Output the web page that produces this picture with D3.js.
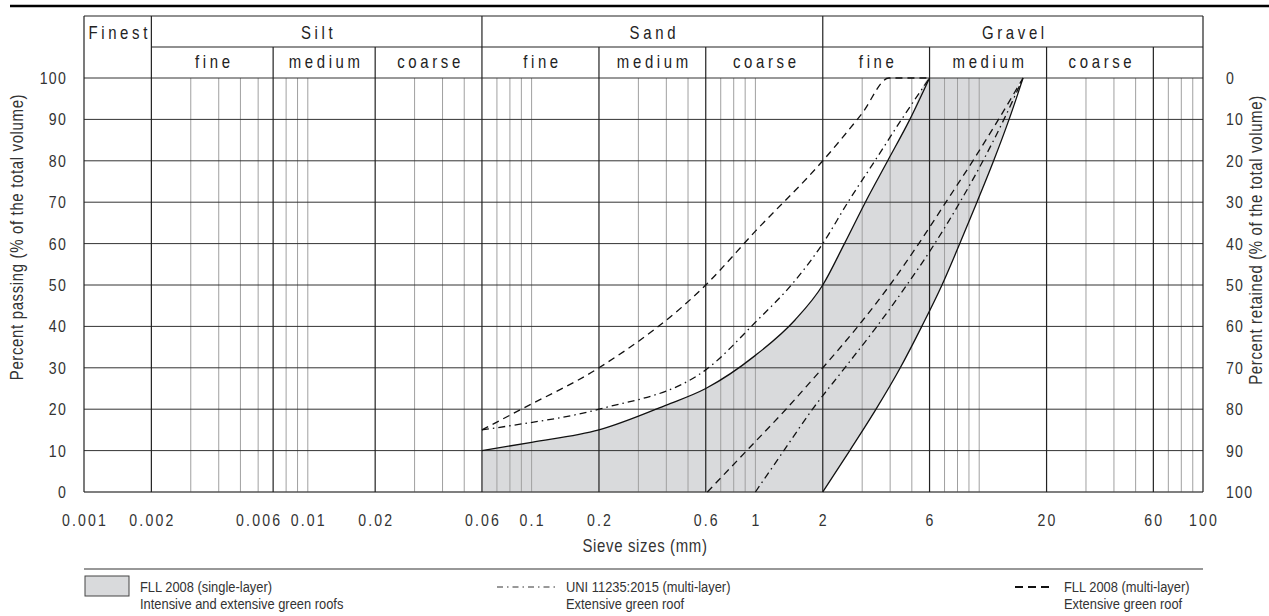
<!DOCTYPE html>
<html>
<head>
<meta charset="utf-8">
<script src="https://cdn.jsdelivr.net/npm/d3@7/dist/d3.min.js"></script>
<style>
  body { margin: 0; background: #fff; }
  svg { display: block; font-family: 'Liberation Sans', Arial, sans-serif; }
</style>
</head>
<body>
<svg></svg>
<script>
const width = 1269;
const height = 616;

// sieve sizes in mm, percent passing
const xTicks = [0.001, 0.002, 0.006, 0.01, 0.02, 0.06, 0.1, 0.2, 0.6, 1, 2, 6, 20, 60, 100];
const yTicks = [0, 10, 20, 30, 40, 50, 60, 70, 80, 90, 100];
const majorLines = [0.002, 0.007, 0.02, 0.06, 0.2, 0.6, 2, 6, 20, 60];
const minorLines = [0.003, 0.004, 0.005, 0.006, 0.008, 0.009, 0.01,
    0.03, 0.04, 0.05, 0.07, 0.08, 0.09, 0.1,
    0.3, 0.4, 0.5, 0.7, 0.8, 0.9, 1,
    3, 4, 5, 7, 8, 9, 10,
    30, 40, 50, 70, 80, 90];

const groups = [
    { name: 'Finest', from: 0.001, to: 0.002 },
    { name: 'Silt', from: 0.002, to: 0.06 },
    { name: 'Sand', from: 0.06, to: 2 },
    { name: 'Gravel', from: 2, to: 100 }
];
const subGroups = [
    { name: 'fine', from: 0.002, to: 0.007 },
    { name: 'medium', from: 0.007, to: 0.02 },
    { name: 'coarse', from: 0.02, to: 0.06 },
    { name: 'fine', from: 0.06, to: 0.2 },
    { name: 'medium', from: 0.2, to: 0.6 },
    { name: 'coarse', from: 0.6, to: 2 },
    { name: 'fine', from: 2, to: 6 },
    { name: 'medium', from: 6, to: 20 },
    { name: 'coarse', from: 20, to: 60 },
    { name: '', from: 60, to: 100 }
];

// FLL 2008 single-layer band
const fllUpper = [[0.06, 10], [0.1, 12], [0.2, 15], [0.4, 21], [0.6, 25], [1, 33], [1.5, 41.5], [2, 50], [2.5, 60], [3.1, 70], [3.9, 80], [4.9, 90], [6, 100]];
const fllLower = [[2, 0], [2.64, 10], [3.46, 20], [4.44, 30], [5.54, 40], [6.82, 50], [8.19, 60], [9.77, 70], [11.6, 80], [13.6, 90], [15.7, 100]];
// UNI 11235:2015 multi-layer
const uniUpper = [[0.06, 15], [0.08, 16], [0.2, 20], [0.6, 29.5], [1, 41], [1.5, 51], [2, 60], [2.59, 70], [3.42, 80], [4.5, 90], [6, 100]];
const uniLower = [[1, 0], [1.34, 10], [1.8, 20], [2.51, 30], [3.49, 40], [4.75, 50], [6.33, 60], [8.2, 70], [10.4, 80], [12.9, 90], [15.7, 100]];
// FLL 2008 multi-layer
const fllMultiUpper = [[0.06, 15], [0.09, 20], [0.2, 30], [0.6, 50], [1, 63], [2, 80], [3, 91.5], [3.95, 100], [6, 100]];
const fllMultiLower = [[0.61, 0], [0.915, 10], [1.37, 20], [2, 30], [2.87, 40], [3.99, 50], [5.37, 60], [7.1, 70], [9.37, 80], [12.2, 90], [15.7, 100]];

const svg = d3.select('svg').attr('width', width).attr('height', height);

const x = d3.scaleLog().domain([0.001, 100]).range([84, 1203]);
const y = d3.scaleLinear().domain([0, 100]).range([492, 78]);
const headerTop = 16;
const headerMid = 47;
const squeeze = 0.83; // condensed lettering

const line = d3.line().x(d => x(d[0])).y(d => y(d[1])).curve(d3.curveMonotoneX);
const area = d3.area().x(d => x(d[0])).y0(y(0)).y1(d => y(d[1])).curve(d3.curveMonotoneX);

drawBand();
drawGrid();
drawHeader();
drawCurves();
drawAxes();
drawLegend();

// place text squeezed horizontally around its anchor point
function narrowText(sel, fx, fy, rot, sq = squeeze) {
    sel.attr('transform', (d, i) =>
        `translate(${fx(d, i)},${fy(d, i)})` + (rot ? ` rotate(${rot})` : '') + ` scale(${sq},1)`);
    return sel;
}

function drawBand() {
    svg.append('path')
        .attr('d', area(fllUpper.concat([[15.7, 100]])))
        .attr('fill', '#d9dadc');
    svg.append('path')
        .attr('d', area(fllLower.concat([[100, 100]])))
        .attr('fill', '#fff');
}

function drawGrid() {
    svg.append('g').selectAll('line')
        .data(minorLines)
        .enter().append('line')
        .attr('x1', d => x(d)).attr('x2', d => x(d))
        .attr('y1', y(0)).attr('y2', y(100))
        .style('stroke', '#a0a0a0')
        .style('stroke-width', '1px');

    svg.append('g').selectAll('line')
        .data(yTicks)
        .enter().append('line')
        .attr('x1', x(0.001)).attr('x2', x(100))
        .attr('y1', d => y(d)).attr('y2', d => y(d))
        .style('stroke', d => d === 0 ? '#555' : '#333')
        .style('stroke-width', d => d === 0 ? '1.6px' : '1px');

    svg.append('g').selectAll('line')
        .data(majorLines)
        .enter().append('line')
        .attr('x1', d => x(d)).attr('x2', d => x(d))
        .attr('y1', y(0)).attr('y2', d => d === 0.002 || d === 0.06 || d === 2 ? headerTop : headerMid)
        .style('stroke', '#222')
        .style('stroke-width', '1.2px');

    // frame
    [0.001, 100].forEach(v => {
        svg.append('line')
            .attr('x1', x(v)).attr('x2', x(v))
            .attr('y1', headerTop).attr('y2', y(0))
            .style('stroke', '#222').style('stroke-width', '1.2px');
    });
}

function drawHeader() {
    svg.append('line')
        .attr('x1', 10).attr('x2', width)
        .attr('y1', 6).attr('y2', 6)
        .style('stroke', '#000').style('stroke-width', '2.5px');
    svg.append('line')
        .attr('x1', x(0.001)).attr('x2', x(100))
        .attr('y1', headerTop).attr('y2', headerTop)
        .style('stroke', '#222').style('stroke-width', '1.2px');
    svg.append('line')
        .attr('x1', x(0.002)).attr('x2', x(100))
        .attr('y1', headerMid).attr('y2', headerMid)
        .style('stroke', '#222').style('stroke-width', '1.2px');

    [[groups, 39], [subGroups, 68]].forEach(([rows, base]) => {
        const t = svg.append('g').selectAll('text')
            .data(rows)
            .enter().append('text')
            .attr('text-anchor', 'middle')
            .style('font-size', '18px')
            .style('letter-spacing', '4.4px')
            .style('fill', '#222')
            .text(d => d.name);
        narrowText(t, d => (x(d.from) + x(d.to)) / 2 + 2, () => base);
    });
}

function drawCurves() {
    const curves = [
        { data: fllUpper, dash: null },
        { data: fllLower, dash: null },
        { data: uniUpper, dash: '7,4,1.5,4' },
        { data: uniLower, dash: '7,4,1.5,4' },
        { data: fllMultiUpper, dash: '7,5' },
        { data: fllMultiLower, dash: '7,5' }
    ];
    svg.append('g').selectAll('path')
        .data(curves)
        .enter().append('path')
        .attr('d', d => line(d.data))
        .style('fill', 'none')
        .style('stroke', '#111')
        .style('stroke-width', '1.3px')
        .style('stroke-dasharray', d => d.dash);
}

function drawAxes() {
    const xt = svg.append('g').selectAll('text')
        .data(xTicks)
        .enter().append('text')
        .attr('text-anchor', 'middle')
        .style('font-size', '17px')
        .style('letter-spacing', '2.6px')
        .style('fill', '#333')
        .text(d => d);
    narrowText(xt, d => x(d) + 1, () => 526);

    const yl = svg.append('g').selectAll('text')
        .data(yTicks)
        .enter().append('text')
        .attr('text-anchor', 'end')
        .style('font-size', '17px')
        .style('letter-spacing', '1.5px')
        .style('fill', '#333')
        .text(d => d);
    narrowText(yl, () => 67, d => y(d) + 6);

    const yr = svg.append('g').selectAll('text')
        .data(yTicks)
        .enter().append('text')
        .style('font-size', '17px')
        .style('letter-spacing', '1.5px')
        .style('fill', '#333')
        .text(d => 100 - d);
    narrowText(yr, () => 1226, d => y(d) + 6);

    const titles = [
        { text: 'Sieve sizes (mm)', x: 645, y: 552, rot: 0 },
        { text: 'Percent passing (% of the total volume)', x: 23, y: 237, rot: -90 },
        { text: 'Percent retained (% of the total volume)', x: 1262, y: 240, rot: -90 }
    ];
    titles.forEach(t => {
        const s = svg.append('text')
            .datum(t)
            .attr('text-anchor', 'middle')
            .style('font-size', '18px')
            .style('letter-spacing', '0.8px')
            .style('fill', '#333')
            .text(t.text);
        narrowText(s, d => d.x, d => d.y, t.rot);
    });
}

function drawLegend() {
    svg.append('line')
        .attr('x1', x(0.001)).attr('x2', x(100))
        .attr('y1', 569).attr('y2', 569)
        .style('stroke', '#333').style('stroke-width', '1.2px');

    svg.append('rect')
        .attr('x', 85).attr('y', 576)
        .attr('width', 44).attr('height', 20)
        .style('fill', '#d9dadc')
        .style('stroke', '#444')
        .style('stroke-width', '1px');

    svg.append('line')
        .attr('x1', 497).attr('x2', 556)
        .attr('y1', 587).attr('y2', 587)
        .style('stroke', '#333').style('stroke-width', '1px')
        .style('stroke-dasharray', '6,4,1.5,4');

    svg.append('line')
        .attr('x1', 1015).attr('x2', 1053)
        .attr('y1', 587).attr('y2', 587)
        .style('stroke', '#111').style('stroke-width', '2px')
        .style('stroke-dasharray', '8,5');

    const items = [
        { x: 140, lines: ['FLL 2008 (single-layer)', 'Intensive and extensive green roofs'] },
        { x: 566, lines: ['UNI 11235:2015 (multi-layer)', 'Extensive green roof'] },
        { x: 1064, lines: ['FLL 2008 (multi-layer)', 'Extensive green roof'] }
    ];
    items.forEach(item => {
        const t = svg.append('g').selectAll('text')
            .data(item.lines)
            .enter().append('text')
            .style('font-size', '15px')
            .style('fill', '#333')
            .text(d => d);
        narrowText(t, () => item.x, (d, i) => 592 + i * 17, 0, 0.86);
    });
}
</script>
</body>
</html>
